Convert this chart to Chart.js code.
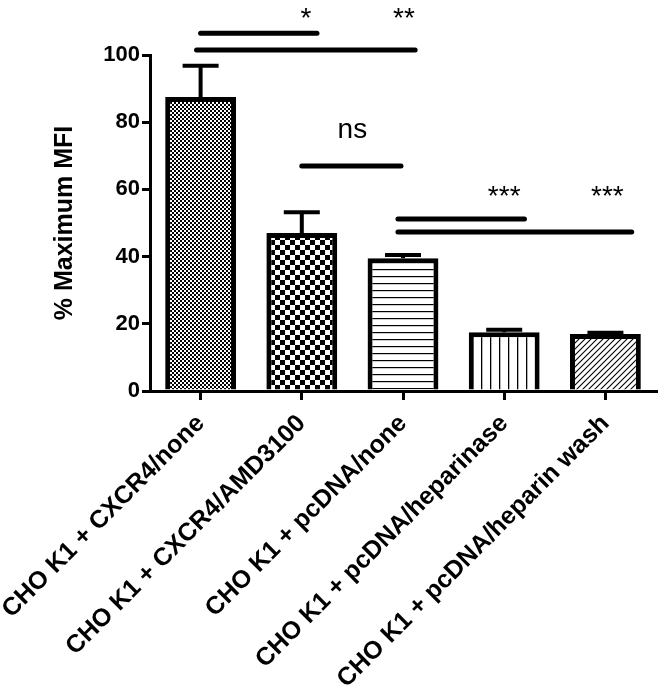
<!DOCTYPE html>
<html>
<head>
<meta charset="utf-8">
<script src="https://cdn.jsdelivr.net/npm/chart.js@4/dist/chart.umd.min.js"></script>
<style>
  html, body { margin: 0; padding: 0; background: #ffffff; }
  canvas { display: block; }
</style>
</head>
<body>
<canvas id="c" width="664" height="693"></canvas>
<script>
// ---- data ----
const categories = [
  'CHO K1 + CXCR4/none',
  'CHO K1 + CXCR4/AMD3100',
  'CHO K1 + pcDNA/none',
  'CHO K1 + pcDNA/heparinase',
  'CHO K1 + pcDNA/heparin wash'
];
const meanValues  = [87.5, 47.0, 39.5, 17.5, 17.0];
const errorValues = [9.3, 6.2, 1.0, 0.7, 0.3];
const yTicks = [0, 20, 40, 60, 80, 100];
const patternKinds = ['fineCheck', 'coarseCheck', 'hLines', 'vLines', 'diag'];

// significance brackets (category index units / data units)
const sigText   = ['*', '**', 'ns', '***', '***'];
const sigFrom   = [0.0, -0.04, 1.0, 1.95, 1.95];
const sigTo     = [1.15, 2.12, 1.98, 3.2, 4.26];
const sigLineY  = [106.5, 101.5, 67, 51.2, 47.3];
const sigTextX  = [1.04, 2.01, 1.5, 3.0, 4.02];
const sigTextY  = [108.3, 108.3, 75.3, 55.4, 55.4];

const FONT = '"Liberation Sans", Arial, Helvetica, sans-serif';

function makePattern(kind) {
  const c = document.createElement('canvas');
  const g = c.getContext('2d');
  let s;
  if (kind === 'fineCheck') {
    s = 4; c.width = s; c.height = s;
    g.fillStyle = '#fff'; g.fillRect(0, 0, s, s);
    g.fillStyle = '#000'; g.fillRect(0, 0, 2, 2); g.fillRect(2, 2, 2, 2);
  } else if (kind === 'coarseCheck') {
    s = 10; c.width = s; c.height = s;
    g.fillStyle = '#fff'; g.fillRect(0, 0, s, s);
    g.fillStyle = '#000'; g.fillRect(0, 0, 5, 5); g.fillRect(5, 5, 5, 5);
  } else if (kind === 'hLines') {
    s = 7; c.width = s; c.height = s;
    g.fillStyle = '#fff'; g.fillRect(0, 0, s, s);
    g.fillStyle = '#000'; g.fillRect(0, 3, s, 1.2);
  } else if (kind === 'vLines') {
    c.width = 9; c.height = 9;
    g.fillStyle = '#fff'; g.fillRect(0, 0, 9, 9);
    g.fillStyle = '#000'; g.fillRect(4, 0, 1.3, 9);
  } else {
    s = 6; c.width = s; c.height = s;
    g.fillStyle = '#fff'; g.fillRect(0, 0, s, s);
    g.strokeStyle = '#000'; g.lineWidth = 1.1;
    g.beginPath();
    g.moveTo(-1, s + 1); g.lineTo(s + 1, -1);
    g.moveTo(-1, 1); g.lineTo(1, -1);
    g.moveTo(s - 1, s + 1); g.lineTo(s + 1, s - 1);
    g.stroke();
  }
  return g.createPattern(c, 'repeat');
}

const annotationPlugin = {
  id: 'annotations',
  afterDatasetsDraw(chart) {
    const ctx = chart.ctx;
    const xs = chart.scales.x, ys = chart.scales.y;
    ctx.save();
    // error bars (upper only)
    ctx.strokeStyle = '#000';
    ctx.lineWidth = 4;
    ctx.lineCap = 'butt';
    meanValues.forEach((v, i) => {
      const x = xs.getPixelForValue(i);
      const y0 = ys.getPixelForValue(v);
      const y1 = ys.getPixelForValue(v + errorValues[i]);
      ctx.beginPath();
      ctx.moveTo(x, y0); ctx.lineTo(x, y1);
      ctx.moveTo(x - 18, y1); ctx.lineTo(x + 18, y1);
      ctx.stroke();
    });
    // significance lines
    ctx.lineWidth = 5;
    ctx.lineCap = 'round';
    sigText.forEach((t, i) => {
      const y = ys.getPixelForValue(sigLineY[i]);
      ctx.beginPath();
      ctx.moveTo(xs.getPixelForValue(sigFrom[i]), y);
      ctx.lineTo(xs.getPixelForValue(sigTo[i]), y);
      ctx.stroke();
    });
    // labels
    ctx.fillStyle = '#000';
    ctx.font = '28px ' + FONT;
    ctx.textAlign = 'center';
    ctx.textBaseline = 'alphabetic';
    sigText.forEach((t, i) => {
      ctx.fillText(t, xs.getPixelForValue(sigTextX[i]), ys.getPixelForValue(sigTextY[i]));
    });
    ctx.restore();
  }
};

const ctx = document.getElementById('c').getContext('2d');
new Chart(ctx, {
  type: 'bar',
  data: {
    labels: categories,
    datasets: [{
      data: meanValues,
      backgroundColor: patternKinds.map(makePattern),
      borderColor: '#000',
      borderWidth: 5,
      borderSkipped: 'bottom',
      barPercentage: 0.7,
      categoryPercentage: 1.0
    }]
  },
  options: {
    responsive: false,
    animation: false,
    devicePixelRatio: 1,
    layout: { padding: { left: 50, right: 8, top: 55, bottom: 0 } },
    plugins: { legend: { display: false }, tooltip: { enabled: false } },
    scales: {
      x: {
        offset: true,
        grid: { display: true, offset: false, drawOnChartArea: false, drawTicks: true, tickLength: 9, color: '#000', lineWidth: 3 },
        border: { display: true, color: '#000', width: 3 },
        ticks: {
          autoSkip: false, maxRotation: 45, minRotation: 45, padding: 9,
          color: '#000', font: { family: FONT, size: 25, weight: 'bold' }
        },
        afterFit(scale) { scale.height = 302; scale.paddingLeft = 0; scale.paddingRight = 0; }
      },
      y: {
        min: 0, max: 100,
        afterBuildTicks(scale) { scale.ticks = yTicks.map(v => ({ value: v })); },
        grid: { display: true, drawOnChartArea: false, drawTicks: true, tickLength: 8, color: '#000', lineWidth: 3 },
        border: { display: true, color: '#000', width: 3 },
        ticks: { padding: 2, color: '#000', font: { family: FONT, size: 22, weight: 'bold' } },
        title: { display: true, text: '% Maximum MFI', color: '#000', padding: 0, font: { family: FONT, size: 25, weight: 'bold' } },
        afterFit(scale) { scale.width = 100; }
      }
    }
  },
  plugins: [annotationPlugin]
});
</script>
</body>
</html>
